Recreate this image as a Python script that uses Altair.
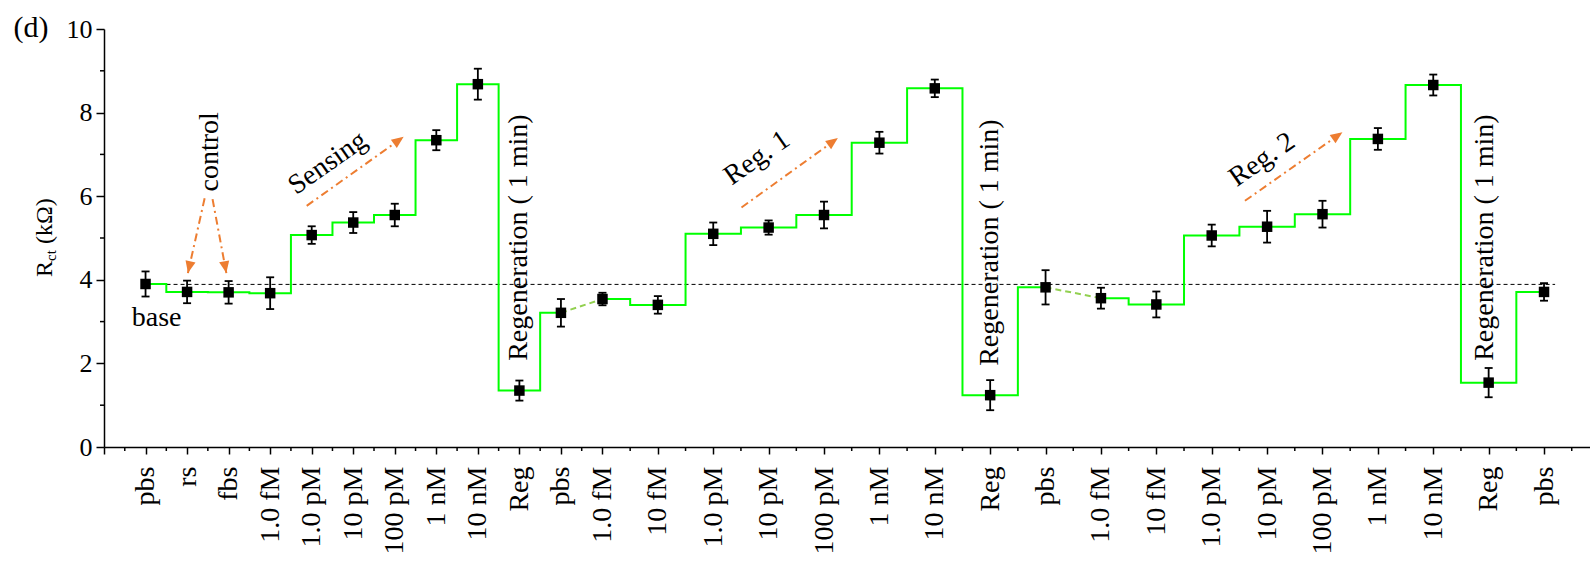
import json
import math
import altair as alt
import pandas as pd

# ---------------- data ----------------
labels = ["pbs", "rs", "fbs", "1.0 fM", "1.0 pM", "10 pM", "100 pM", "1 nM", "10 nM", "Reg",
          "pbs", "1.0 fM", "10 fM", "1.0 pM", "10 pM", "100 pM", "1 nM", "10 nM", "Reg",
          "pbs", "1.0 fM", "10 fM", "1.0 pM", "10 pM", "100 pM", "1 nM", "10 nM", "Reg", "pbs"]
positions = [0.75, 1.5, 2.25, 3.0, 3.75, 4.5, 5.25, 6.0, 6.75, 7.5, 8.25, 9.0,
             10, 11, 12, 13, 14, 15, 16, 17, 18, 19, 20, 21, 22, 23, 24, 25, 26]
values = [3.90, 3.71, 3.70, 3.68, 5.07, 5.37, 5.55, 7.34, 8.68, 1.35,
          3.21, 3.54, 3.40, 5.10, 5.25, 5.55, 7.28, 8.58, 1.24,
          3.82, 3.56, 3.41, 5.06, 5.27, 5.57, 7.37, 8.66, 1.54, 3.71]
errors = [0.30, 0.27, 0.27, 0.38, 0.21, 0.25, 0.27, 0.24, 0.37, 0.24,
          0.33, 0.15, 0.21, 0.27, 0.17, 0.32, 0.26, 0.21, 0.36,
          0.41, 0.25, 0.31, 0.26, 0.38, 0.32, 0.26, 0.25, 0.35, 0.21]
segments = [0] * 11 + [1] * 9 + [2] * 9
connector_pairs = [(10, 11), (19, 20)]
base_level = 3.89
base_span = [0.75, 26.2]

arrows = [  # (x_start, y_start, x_tip, y_tip)
    (1.817, 5.95, 1.515, 4.16),
    (1.96, 5.93, 2.209, 4.16),
    (3.66, 5.77, 5.41, 7.42),
    (11.51, 5.73, 13.25, 7.39),
    (20.60, 5.89, 22.36, 7.53),
]
texts = ["control", "Sensing", "Reg. 1", "Reg. 2",
         "Regeneration ( 1 min)", "Regeneration ( 1 min)", "Regeneration ( 1 min)", "base"]
text_x = [1.906, 4.04, 11.79, 20.91, 7.5, 16.0, 24.93, 0.95]
text_y = [7.06, 6.79, 6.91, 6.87, 5.01, 4.89, 5.01, 3.09]
text_angle = [270, 325, 325, 325, 270, 270, 270, 0]

# ---------------- layout ----------------
FONT = "Liberation Serif"
W, H = 1486, 418
X_MAX = 26.83
PX_PER_X = W / X_MAX
PX_PER_Y = H / 10.0
GREEN = "#00ff00"
LIGHT_GREEN = "#92d050"
ORANGE = "#ed7d31"

tick_vals = [0] + positions
minor_x = [(a + b) / 2 for a, b in zip(tick_vals[:-1], tick_vals[1:])] + [26.5]
minor_y = [1, 3, 5, 7, 9]

pos_js = json.dumps(positions)
lab_js = json.dumps(labels)
label_expr = f"indexof({pos_js}, datum.value) < 0 ? '' : {lab_js}[indexof({pos_js}, datum.value)]"

x_axis = alt.Axis(values=tick_vals, labelExpr=label_expr, labelAngle=-90, labelAlign="right",
                  labelBaseline="middle", labelFont=FONT, labelFontSize=28, labelColor="black",
                  tickSize=7, tickColor="black", tickWidth=1.5, domainColor="black", domainWidth=1.5,
                  labelPadding=12, grid=False, title=None, labelOverlap=False, labelFlush=False)
y_axis = alt.Axis(values=[0, 2, 4, 6, 8, 10], labelFont=FONT, labelFontSize=26, labelColor="black",
                  tickSize=8, tickColor="black", tickWidth=1.5, domainColor="black", domainWidth=1.5,
                  labelPadding=4, grid=False, title=None)


def xe(field="x"):
    return alt.X(f"{field}:Q", scale=alt.Scale(domain=[0, X_MAX], nice=False, zero=False), axis=x_axis)


def ye(field="y"):
    return alt.Y(f"{field}:Q", scale=alt.Scale(domain=[0, 10], nice=False), axis=y_axis)


df = pd.DataFrame({
    "x": positions, "y": values,
    "lo": [v - e for v, e in zip(values, errors)],
    "hi": [v + e for v, e in zip(values, errors)],
    "seg": segments,
})

conn_rows = []
for k, (i, j) in enumerate(connector_pairs):
    conn_rows.append({"x": positions[i], "y": values[i], "pair": k})
    conn_rows.append({"x": positions[j], "y": values[j], "pair": k})
df_conn = pd.DataFrame(conn_rows)

df_base = pd.DataFrame({"x": base_span, "y": [base_level, base_level]})

arrow_rows, head_rows = [], []
for k, (x1, y1, x2, y2) in enumerate(arrows):
    arrow_rows.append({"x": x1, "y": y1, "id": k, "o": 0})
    arrow_rows.append({"x": x2, "y": y2, "id": k, "o": 1})
    dx = (x2 - x1) * PX_PER_X
    dy = -(y2 - y1) * PX_PER_Y
    ang = math.degrees(math.atan2(dx, -dy)) % 360
    head_rows.append({"x": x2, "y": y2, "angle": ang})
df_arrows = pd.DataFrame(arrow_rows)
df_heads = pd.DataFrame(head_rows)

df_text = pd.DataFrame({"t": texts, "x": text_x, "y": text_y, "angle": text_angle})
one = pd.DataFrame({"a": [0]})

layers = []

# minor ticks
layers.append(alt.Chart(pd.DataFrame({"x": minor_x})).mark_rule(color="black", strokeWidth=1.5).encode(
    x=xe(), y=alt.value(H), y2=alt.value(H + 4)))
layers.append(alt.Chart(pd.DataFrame({"y": minor_y})).mark_rule(color="black", strokeWidth=1.5).encode(
    y=ye(), x=alt.value(-4), x2=alt.value(0)))

# base dashed line
layers.append(alt.Chart(df_base).mark_line(color="black", strokeWidth=1, strokeDash=[4, 3]).encode(
    x=xe(), y=ye()))

# step line
layers.append(alt.Chart(df).mark_line(interpolate="step", color=GREEN, strokeWidth=2).encode(
    x=xe(), y=ye(), detail="seg:N", order="x:Q"))

# dashed connectors
layers.append(alt.Chart(df_conn).mark_line(color=LIGHT_GREEN, strokeWidth=2, strokeDash=[6, 4]).encode(
    x=xe(), y=ye(), detail="pair:N"))

# error bars
layers.append(alt.Chart(df).mark_rule(color="black", strokeWidth=1.8).encode(
    x=xe(), y=ye("lo"), y2=alt.Y2("hi")))
for f in ["lo", "hi"]:
    layers.append(alt.Chart(df).mark_rule(color="black", strokeWidth=1.8, xOffset=-4, x2Offset=4).encode(
        x=xe(), x2=alt.X2("x"), y=ye(f)))

# points
layers.append(alt.Chart(df).mark_point(shape="square", filled=True, size=110, color="black", opacity=1).encode(
    x=xe(), y=ye()))

# orange arrows
layers.append(alt.Chart(df_arrows).mark_line(color=ORANGE, strokeWidth=2, strokeDash=[8, 4, 2, 4]).encode(
    x=xe(), y=ye(), detail="id:N", order="o:Q"))
layers.append(alt.Chart(df_heads).mark_point(shape="M0,0L0.85,2L-0.85,2Z", filled=True, size=144,
                                              color=ORANGE, opacity=1).encode(
    x=xe(), y=ye(), angle=alt.Angle("angle:Q", scale=None)))

# annotation texts
layers.append(alt.Chart(df_text).mark_text(font=FONT, fontSize=28, color="black", align="center",
                                           baseline="middle").encode(
    x=xe(), y=ye(), text="t:N", angle=alt.Angle("angle:Q", scale=None)))

# panel label
layers.append(alt.Chart(one).mark_text(text="(d)", font=FONT, fontSize=30, color="black",
                                       align="center", baseline="middle").encode(
    x=alt.value(-73), y=alt.value(-1)))

# y-axis title R_ct (kΩ)
layers.append(alt.Chart(one).mark_text(text="R", font=FONT, fontSize=24, color="black", angle=270,
                                       align="left", baseline="alphabetic").encode(
    x=alt.value(-52), y=alt.value(248)))
layers.append(alt.Chart(one).mark_text(text="ct", font=FONT, fontSize=15, color="black", angle=270,
                                       align="left", baseline="alphabetic").encode(
    x=alt.value(-48.5), y=alt.value(232)))
layers.append(alt.Chart(one).mark_text(text="(kΩ)", font=FONT, fontSize=24, color="black", angle=270,
                                       align="left", baseline="alphabetic").encode(
    x=alt.value(-52), y=alt.value(215)))

chart = alt.layer(*layers).properties(
    width=W, height=H,
    autosize=alt.AutoSizeParams(type="none"),
    padding={"left": 104, "top": 29, "right": 0, "bottom": 118},
).configure_view(stroke=None)

chart.save("out.html", embed_options={"renderer": "svg", "actions": False})
